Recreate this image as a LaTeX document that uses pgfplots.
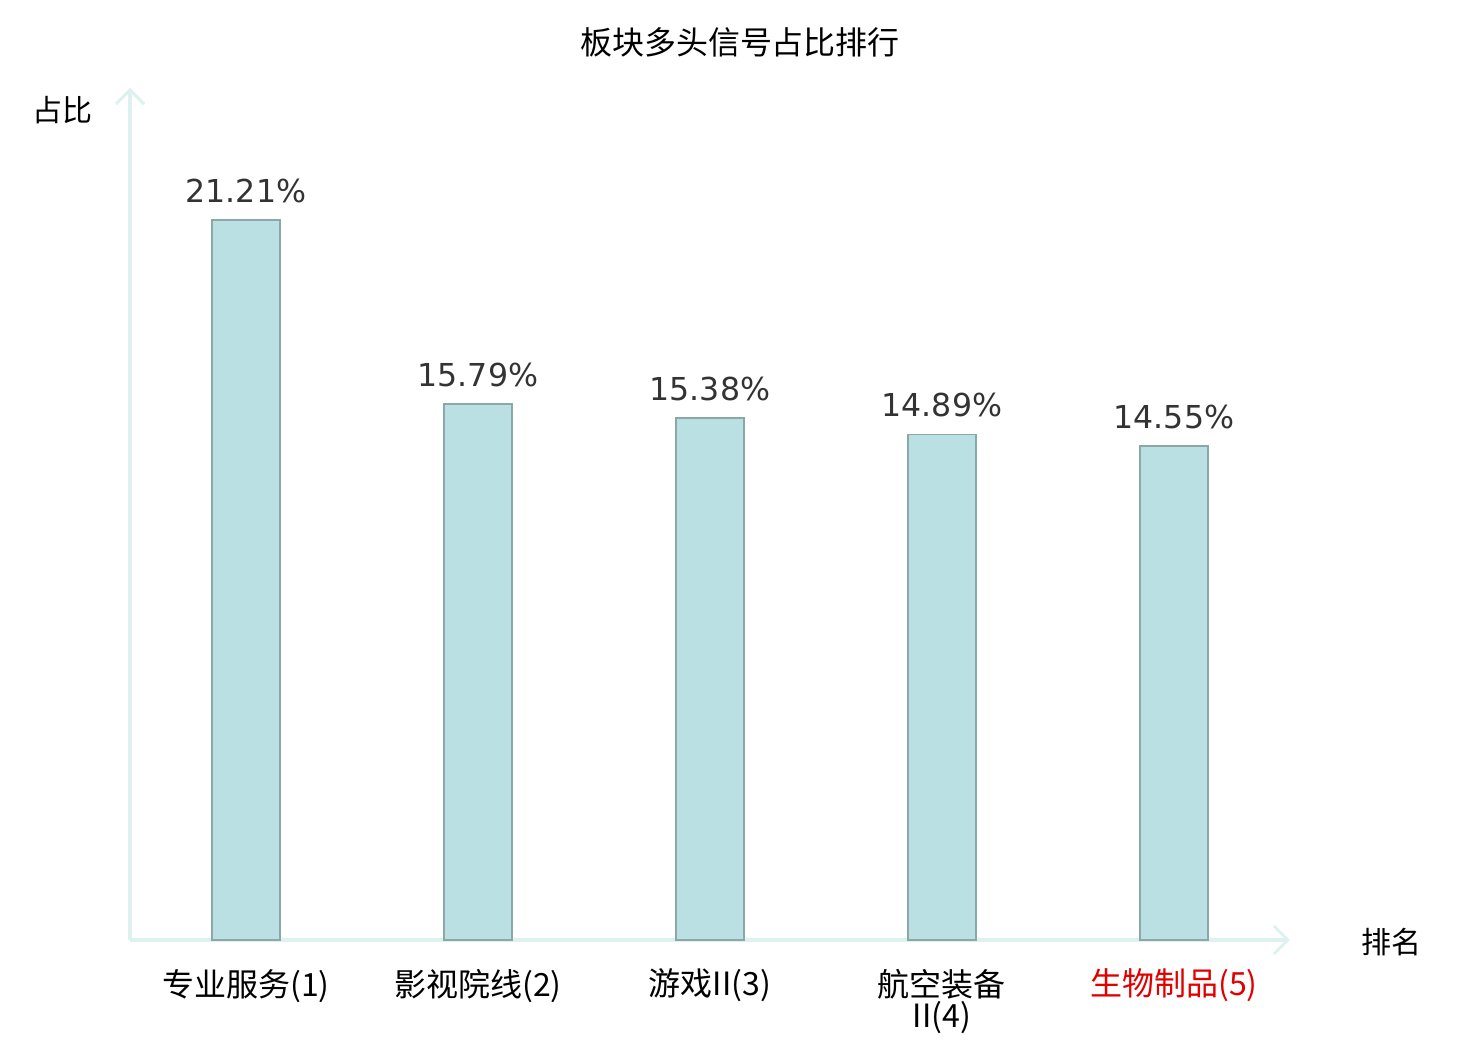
\documentclass[border=0pt]{standalone}
\usepackage{pgfplots}
\pgfplotsset{compat=1.18}
\usepackage{fontspec}
\setmainfont{Noto Sans CJK SC}
\newfontfamily\dejavu{DejaVu Sans}
\usetikzlibrary{arrows.meta}
\definecolor{barfill}{HTML}{BBE0E3}
\definecolor{baredge}{HTML}{8AA8A8}
\definecolor{axcol}{HTML}{DDF2EE}
\definecolor{valcol}{HTML}{333333}
\definecolor{redlab}{HTML}{E00000}
\begin{document}
\begin{tikzpicture}
\begin{axis}[
  name=ax,
  scale only axis,
  width=580pt, height=426pt,
  xmin=-0.5, xmax=4.5, ymin=0, ymax=25.1,
  axis lines=left,
  axis line style={draw=axcol, line width=1.8pt, -{Straight Barb[length=7pt,width=14pt,line width=1.5pt]}},
  ytick=\empty,
  xtick={0,1,2,3,4},
  major tick length=0pt,
  xticklabels={专业服务(1),影视院线(2),游戏II(3),{航空装备\\II(4)},\textcolor{redlab}{生物制品(5)}},
  xticklabel style={font=\fontsize{16}{15.5}\selectfont, align=center, anchor=north, yshift=-11pt, text=black},
  /pgf/number format/assume math mode=true,
  nodes near coords={\pgfmathprintnumber[fixed,precision=2,fixed zerofill]{\pgfplotspointmeta}\%},
  nodes near coords style={font=\dejavu\fontsize{15.8}{15.8}\selectfont, text=valcol, anchor=south, yshift=5pt},
  clip=false,
]
\addplot[ybar, bar width=34pt, fill=barfill, draw=baredge, line width=0.75pt] coordinates {
(0,21.21) (1,15.79) (2,15.38) (3,14.89) (4,14.55)};
\end{axis}
\node[font=\fontsize{16}{16}\selectfont] at ([shift={(305pt,449pt)}]ax.south west) {板块多头信号占比排行};
\node[font=\fontsize{15}{15}\selectfont] at ([shift={(-33.5pt,415pt)}]ax.south west) {占比};
\node[font=\fontsize{15}{15}\selectfont] at ([shift={(630.5pt,-1pt)}]ax.south west) {排名};
\pgfresetboundingbox
\path[use as bounding box] ([shift={(-65pt,-50pt)}]ax.south west) rectangle ([shift={(675pt,470pt)}]ax.south west);
\end{tikzpicture}
\end{document}
